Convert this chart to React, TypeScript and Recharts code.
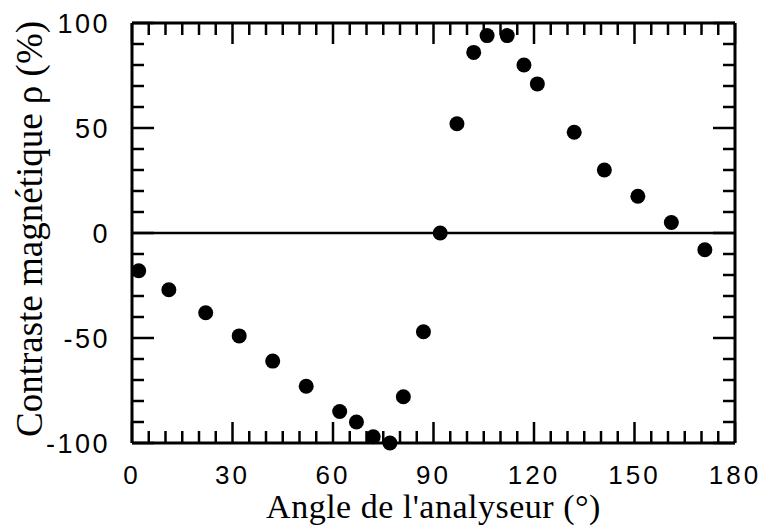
import { ReferenceLine, Scatter, ScatterChart, XAxis, YAxis } from "recharts";

const angles = [2, 11, 22, 32, 42, 52, 62, 67, 72, 77, 81, 87, 92, 97, 102, 106, 112, 117, 121, 132, 141, 151, 161, 171];
const contrast = [-18, -27, -38, -49, -61, -73, -85, -90, -97, -100, -78, -47, 0, 52, 86, 94, 94, 80, 71, 48, 30, 17.5, 5, -8];

const xTicks = Array.from({ length: 37 }, (_, i) => i * 5);
const yTicks = Array.from({ length: 21 }, (_, i) => -100 + i * 10);

const sans = "'Liberation Sans', Arial, Helvetica, sans-serif";
const serif = "'Liberation Serif', 'Times New Roman', serif";

// plot box size in px (used to mirror ticks on top / right edges)
const PLOT_W = 603;
const PLOT_H = 420;

const points = angles.map((a, i) => ({ angle: a, rho: contrast[i] }));

function XTick(props: any) {
  const { x, y, payload } = props;
  const major = payload.value % 30 === 0;
  const len = major ? 21 : 12;
  const top = y - PLOT_H;
  return (
    <g>
      <line x1={x} x2={x} y1={y} y2={y - len} stroke="#000" strokeWidth={2.5} />
      <line x1={x} x2={x} y1={top} y2={top + len} stroke="#000" strokeWidth={2.5} />
      {major && (
        <text x={x} y={y + 41} textAnchor="middle" fontFamily={sans} fontSize={26} letterSpacing={3} fill="#000">
          {payload.value}
        </text>
      )}
    </g>
  );
}

function YTick(props: any) {
  const { x, y, payload } = props;
  const major = payload.value % 50 === 0;
  const len = major ? 22 : 12;
  const right = x + PLOT_W;
  return (
    <g>
      <line x1={x} x2={x + len} y1={y} y2={y} stroke="#000" strokeWidth={2.5} />
      <line x1={right} x2={right - len} y1={y} y2={y} stroke="#000" strokeWidth={2.5} />
      {major && (
        <text x={x - 22} y={y} dy={10} textAnchor="end" fontFamily={sans} fontSize={27} letterSpacing={2.5} fill="#000">
          {payload.value}
        </text>
      )}
    </g>
  );
}

export default function App() {
  return (
    <div style={{ position: "absolute", left: 0, top: 0, background: "#fff" }}>
      <ScatterChart width={768} height={526} margin={{ top: 23, right: 33, left: 0, bottom: 0 }}>
        <XAxis
          dataKey="angle"
          type="number"
          domain={[0, 180]}
          ticks={xTicks}
          interval={0}
          height={83}
          tickSize={0}
          tickMargin={0}
          axisLine={{ stroke: "#000", strokeWidth: 3 }}
          tick={(p: any) => <XTick {...p} />}
          label={{
            value: "Angle de l'analyseur (°)",
            position: "insideBottom",
            offset: 8,
            style: { fontFamily: serif, fontSize: 34, letterSpacing: 0.5, fill: "#000" },
          }}
        />
        <YAxis
          dataKey="rho"
          type="number"
          domain={[-100, 100]}
          ticks={yTicks}
          interval={0}
          width={132}
          tickSize={0}
          tickMargin={0}
          axisLine={{ stroke: "#000", strokeWidth: 3 }}
          tick={(p: any) => <YTick {...p} />}
          label={{
            content: ({ viewBox }: any) => {
              const cy = viewBox.y + viewBox.height / 2 - 4;
              return (
                <text
                  x={29}
                  y={cy}
                  transform={`rotate(-90, 29, ${cy})`}
                  textAnchor="middle"
                  dominantBaseline="central"
                  fontFamily={serif}
                  fontSize={37}
                  fill="#000"
                >
                  Contraste magnétique ρ (%)
                </text>
              );
            },
          }}
        />
        <ReferenceLine y={100} stroke="#000" strokeWidth={3} />
        <ReferenceLine x={180} stroke="#000" strokeWidth={3} />
        <ReferenceLine y={0} stroke="#000" strokeWidth={2.5} />
        <Scatter
          data={points}
          fill="#000"
          isAnimationActive={false}
          shape={(p: any) => <circle cx={p.cx} cy={p.cy} r={7.5} fill="#000" />}
        />
      </ScatterChart>
    </div>
  );
}
